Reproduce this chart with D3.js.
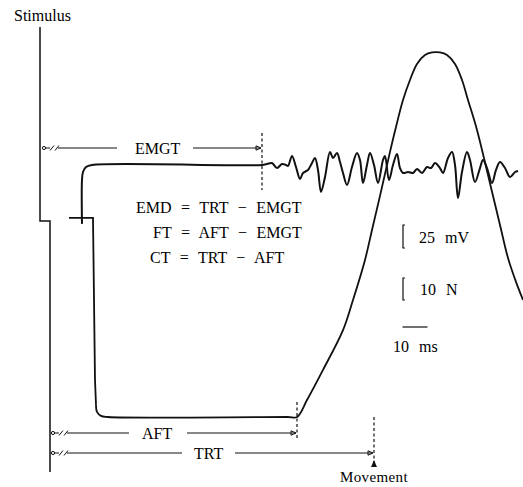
<!DOCTYPE html>
<html><head><meta charset="utf-8">
<script src="https://cdn.jsdelivr.net/npm/d3@7"></script>
<style>
html,body{margin:0;padding:0;background:#fff;}
</style></head>
<body><svg id="c" width="523" height="487"></svg>
<script>
// ---- data (time in ms after stimulus, EMG in mV, force in N) ----
const emgTime  = [16.8,16.8,17.2,18.4,20.8,88.8,90.8,92.8,94.8,96.8,98.4,99.2,100.8,102.4,104,105.2,107.2,108.8,110,111.2,112.4,114,116,117.2,118.8,120,121.2,122.8,124.8,126.8,128,129.2,130.8,132,133.6,135.2,137.2,138,139.6,141.2,142.8,144,145.2,147.2,149.2,150.8,152.8,154.8,156.4,158,160,161.2,163.2,164.8,166,167.2,168.8,170.8,172,174,176,177.2,178.8,180.8,182.4,184,186,188,190,191.2];
const emgValue = [-64,-16.3,-7.6,-2.2,0,0,1.1,2.2,-3.3,1.1,0,-1.1,9.8,-2.2,-15.2,-8.7,-5.4,2.2,7.6,-5.4,-29.3,-13,14.1,7.6,13,3.3,-8.7,-21.7,-2.2,13,5.4,-19.6,0,13,0,-19.6,5.4,9.8,-16.3,0,12,-3.3,-8.7,-7.6,-8.7,-4.3,-8.7,-2.2,-3.3,2.2,-3.3,-8.7,7.6,14.1,0,-35.9,-7.6,14.1,5.4,-18.5,-3.3,5.4,-3.3,-19.6,-5.4,3.3,-3.3,-13,-7.6,-6.5];
// step part of force trace (pre-offset) then the force curve
const forceStepTime  = [11.6,21.2,22,22.4];
const forceStepValue = [90.5,90.5,16.8,5.5];
const forceTime  = [22.4,22.8,24.4,27.2,99,102.8,106.8,113.2,121.2,125.2,130,132.8,136,140,142,145.2,148,150.8,154,156.8,160,162.8,166,168.8,171.2,174.8,179.2,184,187.2,190.4,193.2];
const forceValue = [5.5,2.3,0.5,0,0,0,7.7,21.4,39.5,53.2,71.4,85,100.5,120.5,130,144.1,153.2,160.5,164.5,165.7,165.7,164.5,160.5,153.2,144.1,130.5,110,87.3,72.3,61.4,53.2];
const intervalLabels = ["EMGT","AFT","TRT"];
const intervalEnds   = [88.8,102.8,133.6];
const equations = ["EMD = TRT − EMGT","FT = AFT − EMGT","CT = TRT − AFT"];
const scaleLabels = ["25 mV","10 N","10 ms"];
const scaleValues = [25,10,10];

// ---- scales ----
const x = d3.scaleLinear().domain([0,200]).range([40,540]);
const yEmg = d3.scaleLinear().domain([0,25]).range([165,142]);
const yForce = d3.scaleLinear().domain([0,10]).range([417,395]);

const svg = d3.select("#c");
const k = "#111";
const FONT = "'Liberation Serif', 'Times New Roman', Times, serif";
function label(xp, yp, s, ws){
  return svg.append("text").attr("x",xp).attr("y",yp)
    .attr("font-family",FONT).attr("font-size",16).attr("fill","#000")
    .style("font-family",FONT).style("word-spacing",(ws==null?6:ws)+"px").text(s);
}

// stimulus trace
svg.append("path").attr("d","M40,27 L40,221 L50,221 L50,472")
  .attr("fill","none").attr("stroke",k).attr("stroke-width",1.5);
label(14,21,"Stimulus");

// EMG trace
const emgLine = d3.line().x(d=>x(d[0])).y(d=>yEmg(d[1])).curve(d3.curveCatmullRom.alpha(0.5));
svg.append("path").attr("d",emgLine(emgTime.map((t,i)=>[t,emgValue[i]])))
  .attr("fill","none").attr("stroke",k).attr("stroke-width",2).attr("stroke-linejoin","round");

// force trace
const stepLine = d3.line().x(d=>x(d[0])).y(d=>yForce(d[1]));
svg.append("path").attr("d",stepLine(forceStepTime.map((t,i)=>[t,forceStepValue[i]])))
  .attr("fill","none").attr("stroke",k).attr("stroke-width",1.8);
const forceLine = d3.line().x(d=>x(d[0])).y(d=>yForce(d[1])).curve(d3.curveCatmullRom.alpha(0.5));
svg.append("path").attr("d",forceLine(forceTime.map((t,i)=>[t,forceValue[i]])))
  .attr("fill","none").attr("stroke",k).attr("stroke-width",1.8);

// interval arrows
const rows = [
  {y:148, x0:41, gapL:117, gapR:193, tx:135, ty:154},
  {y:433, x0:50, gapL:129, gapR:187, tx:142, ty:439},
  {y:453, x0:50, gapL:182, gapR:235, tx:194, ty:459}
];
const dashTop = [133,402,417], dashBot=[190,440,462];
rows.forEach((r,i)=>{
  const xe = x(intervalEnds[i]);
  const g = svg.append("g").attr("stroke",k).attr("fill","none").attr("stroke-width",1);
  g.append("circle").attr("cx",r.x0+3).attr("cy",r.y).attr("r",1.6);
  g.append("line").attr("x1",r.x0+4.6).attr("x2",r.x0+9).attr("y1",r.y).attr("y2",r.y);
  g.append("line").attr("x1",r.x0+9).attr("x2",r.x0+13).attr("y1",r.y+2.5).attr("y2",r.y-2.5);
  g.append("line").attr("x1",r.x0+14).attr("x2",r.x0+18).attr("y1",r.y+2.5).attr("y2",r.y-2.5);
  g.append("line").attr("x1",r.x0+17).attr("x2",r.gapL).attr("y1",r.y).attr("y2",r.y);
  g.append("line").attr("x1",r.gapR).attr("x2",xe-1).attr("y1",r.y).attr("y2",r.y);
  g.append("path").attr("d",`M${xe-6},${r.y-2.2} L${xe-1},${r.y} L${xe-6},${r.y+2.2} Z`);
  g.append("line").attr("x1",xe).attr("x2",xe).attr("y1",dashTop[i]).attr("y2",dashBot[i])
    .attr("stroke-dasharray","3,2.5").attr("stroke-width",1.2);
  label(r.tx, r.ty, intervalLabels[i]);
});
// movement marker
const xm = x(intervalEnds[2]);
svg.append("path").attr("d",`M${xm-3},${467} L${xm},${460} L${xm+3},${467} Z`).attr("fill",k);
label(xm,482,"Movement").attr("text-anchor","middle").attr("font-size",15).style("letter-spacing","0.4px");

// equations
const eqX=[136,153,150], eqY=[213,238,263];
equations.forEach((e,i)=>{ label(eqX[i], eqY[i], e, 5.5); });

// calibration bars
const emgTop = yEmg(scaleValues[0]);
svg.append("path").attr("d",`M405,${emgTop+83} L403,${emgTop+83} L403,${yEmg(0)+83} L405,${yEmg(0)+83}`)
  .attr("fill","none").attr("stroke",k).attr("stroke-width",1.2);
label(419,243,scaleLabels[0]);
const fTop = yForce(scaleValues[1]);
svg.append("path").attr("d",`M405,${fTop-117} L403,${fTop-117} L403,${yForce(0)-117} L405,${yForce(0)-117}`)
  .attr("fill","none").attr("stroke",k).attr("stroke-width",1.2);
label(420,295,scaleLabels[1]);
svg.append("line").attr("x1",x(145)).attr("x2",x(145+scaleValues[2])).attr("y1",327).attr("y2",327)
  .attr("stroke",k).attr("stroke-width",1.2);
label(393,352,scaleLabels[2]);
</script></body></html>
